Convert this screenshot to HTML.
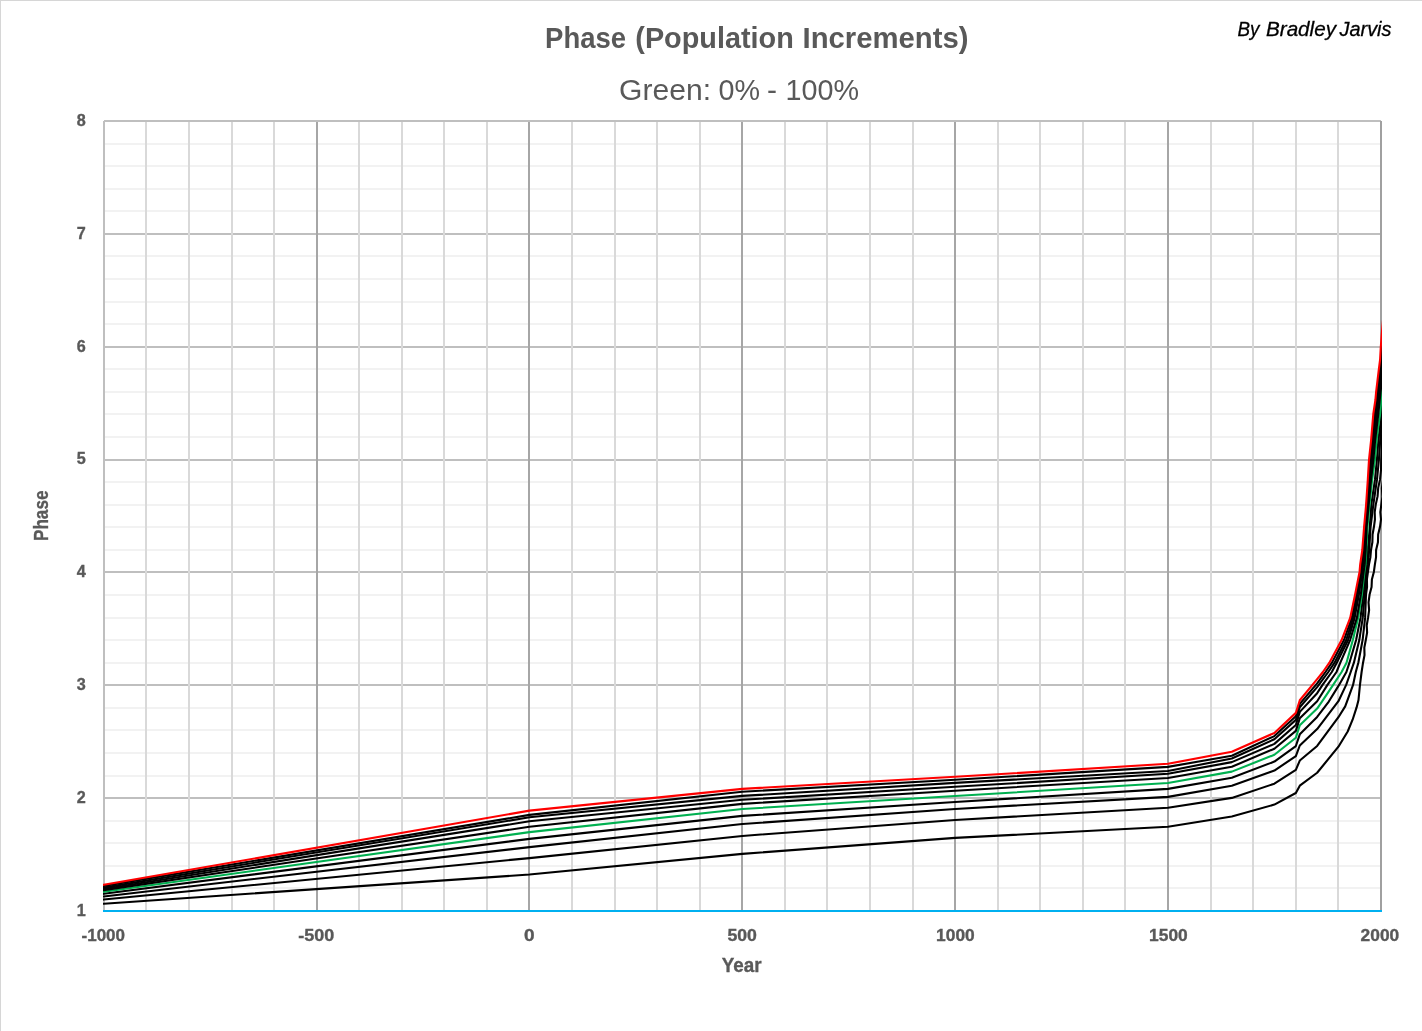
<!DOCTYPE html>
<html lang="en"><head><meta charset="utf-8"><title>Phase (Population Increments)</title>
<style>
html,body{margin:0;padding:0;background:#fff;}
body{width:1422px;height:1031px;overflow:hidden;position:relative;font-family:"Liberation Sans",sans-serif;}
svg{position:absolute;left:0;top:0;display:block;}
text{font-family:"Liberation Sans",sans-serif;}
.t{fill:#595959;font-weight:bold;}
.s{fill:#595959;font-weight:normal;}
.a{fill:#000;font-style:italic;stroke:#000;stroke-width:0.3px;}
.k{stroke:#595959;stroke-width:0.35px;}
</style></head><body>
<svg width="1422" height="1031" viewBox="0 0 1422 1031">
<rect x="0" y="0" width="1422" height="1031" fill="#ffffff"/>
<rect x="0" y="0" width="1422" height="1" fill="#d6d6d6"/>
<rect x="0" y="0" width="1" height="1031" fill="#d6d6d6"/>
<g shape-rendering="crispEdges">
<rect x="103" y="887" width="1279" height="2" fill="#f2f2f2"/>
<rect x="103" y="865" width="1279" height="2" fill="#f2f2f2"/>
<rect x="103" y="842" width="1279" height="2" fill="#f2f2f2"/>
<rect x="103" y="820" width="1279" height="2" fill="#f2f2f2"/>
<rect x="103" y="775" width="1279" height="2" fill="#f2f2f2"/>
<rect x="103" y="752" width="1279" height="2" fill="#f2f2f2"/>
<rect x="103" y="729" width="1279" height="2" fill="#f2f2f2"/>
<rect x="103" y="707" width="1279" height="2" fill="#f2f2f2"/>
<rect x="103" y="662" width="1279" height="2" fill="#f2f2f2"/>
<rect x="103" y="639" width="1279" height="2" fill="#f2f2f2"/>
<rect x="103" y="617" width="1279" height="2" fill="#f2f2f2"/>
<rect x="103" y="594" width="1279" height="2" fill="#f2f2f2"/>
<rect x="103" y="549" width="1279" height="2" fill="#f2f2f2"/>
<rect x="103" y="526" width="1279" height="2" fill="#f2f2f2"/>
<rect x="103" y="504" width="1279" height="2" fill="#f2f2f2"/>
<rect x="103" y="481" width="1279" height="2" fill="#f2f2f2"/>
<rect x="103" y="436" width="1279" height="2" fill="#f2f2f2"/>
<rect x="103" y="413" width="1279" height="2" fill="#f2f2f2"/>
<rect x="103" y="391" width="1279" height="2" fill="#f2f2f2"/>
<rect x="103" y="368" width="1279" height="2" fill="#f2f2f2"/>
<rect x="103" y="323" width="1279" height="2" fill="#f2f2f2"/>
<rect x="103" y="301" width="1279" height="2" fill="#f2f2f2"/>
<rect x="103" y="278" width="1279" height="2" fill="#f2f2f2"/>
<rect x="103" y="255" width="1279" height="2" fill="#f2f2f2"/>
<rect x="103" y="210" width="1279" height="2" fill="#f2f2f2"/>
<rect x="103" y="188" width="1279" height="2" fill="#f2f2f2"/>
<rect x="103" y="165" width="1279" height="2" fill="#f2f2f2"/>
<rect x="103" y="143" width="1279" height="2" fill="#f2f2f2"/>
<rect x="103" y="797" width="1279" height="2" fill="#bfbfbf"/>
<rect x="103" y="684" width="1279" height="2" fill="#bfbfbf"/>
<rect x="103" y="571" width="1279" height="2" fill="#bfbfbf"/>
<rect x="103" y="459" width="1279" height="2" fill="#bfbfbf"/>
<rect x="103" y="346" width="1279" height="2" fill="#bfbfbf"/>
<rect x="103" y="233" width="1279" height="2" fill="#bfbfbf"/>
<rect x="145" y="120" width="2" height="792" fill="#d9d9d9"/>
<rect x="188" y="120" width="2" height="792" fill="#d9d9d9"/>
<rect x="231" y="120" width="2" height="792" fill="#d9d9d9"/>
<rect x="273" y="120" width="2" height="792" fill="#d9d9d9"/>
<rect x="358" y="120" width="2" height="792" fill="#d9d9d9"/>
<rect x="401" y="120" width="2" height="792" fill="#d9d9d9"/>
<rect x="443" y="120" width="2" height="792" fill="#d9d9d9"/>
<rect x="486" y="120" width="2" height="792" fill="#d9d9d9"/>
<rect x="571" y="120" width="2" height="792" fill="#d9d9d9"/>
<rect x="614" y="120" width="2" height="792" fill="#d9d9d9"/>
<rect x="656" y="120" width="2" height="792" fill="#d9d9d9"/>
<rect x="699" y="120" width="2" height="792" fill="#d9d9d9"/>
<rect x="784" y="120" width="2" height="792" fill="#d9d9d9"/>
<rect x="826" y="120" width="2" height="792" fill="#d9d9d9"/>
<rect x="869" y="120" width="2" height="792" fill="#d9d9d9"/>
<rect x="912" y="120" width="2" height="792" fill="#d9d9d9"/>
<rect x="997" y="120" width="2" height="792" fill="#d9d9d9"/>
<rect x="1039" y="120" width="2" height="792" fill="#d9d9d9"/>
<rect x="1082" y="120" width="2" height="792" fill="#d9d9d9"/>
<rect x="1124" y="120" width="2" height="792" fill="#d9d9d9"/>
<rect x="1210" y="120" width="2" height="792" fill="#d9d9d9"/>
<rect x="1252" y="120" width="2" height="792" fill="#d9d9d9"/>
<rect x="1295" y="120" width="2" height="792" fill="#d9d9d9"/>
<rect x="1337" y="120" width="2" height="792" fill="#d9d9d9"/>
<rect x="316" y="120" width="2" height="792" fill="#a6a6a6"/>
<rect x="528" y="120" width="2" height="792" fill="#a6a6a6"/>
<rect x="741" y="120" width="2" height="792" fill="#a6a6a6"/>
<rect x="954" y="120" width="2" height="792" fill="#a6a6a6"/>
<rect x="1167" y="120" width="2" height="792" fill="#a6a6a6"/>
<rect x="104" y="120" width="1277" height="2" fill="#bfbfbf"/>
<rect x="103" y="121" width="2" height="791" fill="#bfbfbf"/>
<rect x="1380" y="121" width="2" height="791" fill="#a0a0a0"/>
</g>
<defs><clipPath id="pc"><rect x="103" y="120" width="1279" height="792"/></clipPath></defs>
<g clip-path="url(#pc)" fill="none" stroke-width="2.1" stroke-linejoin="round" stroke-linecap="butt">
<path d="M103 911 L1382 911" stroke="#00b0f0" stroke-width="2"/>
<path d="M102.80 903.77 L103.80 903.70 L529.47 874.57 L742.30 853.89 L955.13 837.92 L1167.97 826.80 L1231.82 816.56 L1274.38 804.58 L1295.85 793.05 L1299.80 785.70 L1317.15 772.74 L1338.43 746.70 L1347.70 731.50 L1352.60 719.70 L1356.60 707.40 L1358.50 700.00 L1359.96 684.92 L1361.60 672.00 L1363.05 662.70 L1364.52 655.15 L1364.33 647.61 L1365.80 640.06 L1367.10 632.67 L1366.74 625.29 L1368.04 617.90 L1369.11 610.10 L1368.53 602.30 L1369.60 594.50 L1371.57 586.98 L1371.89 579.46 L1373.86 571.94 L1374.90 564.40 L1376.05 557.20 L1376.10 550.00 L1377.95 542.27 L1378.15 534.53 L1380.00 526.80 L1380.98 519.50 L1380.32 512.20 L1381.30 504.90 L1382.42 496.60 L1381.88 488.30 L1383.00 480.00" stroke="#000000"/>
<path d="M102.80 899.68 L103.80 899.58 L529.47 858.08 L742.30 835.95 L955.13 819.98 L1167.97 807.79 L1231.82 797.89 L1274.38 783.70 L1295.85 769.88 L1299.80 760.55 L1317.15 745.95 L1338.43 717.20 L1345.20 706.40 L1346.96 701.54 L1353.06 684.92 L1355.80 672.00 L1358.33 662.70 L1362.60 640.06 L1365.10 617.90 L1366.00 594.50 L1367.05 586.98 L1366.91 579.46 L1367.96 571.94 L1369.00 564.40 L1370.40 557.20 L1371.00 550.00 L1372.38 542.27 L1372.57 534.53 L1373.95 526.80 L1374.93 519.50 L1374.72 512.20 L1375.70 504.90 L1377.55 496.40 L1378.20 487.90 L1380.05 479.40 L1381.03 469.65 L1381.20 459.90 L1381.90 449.95 L1381.80 440.00 L1383.00 420.00" stroke="#000000"/>
<path d="M102.80 896.55 L103.80 896.43 L529.47 847.12 L742.30 824.00 L955.13 808.98 L1167.97 796.85 L1231.82 785.76 L1274.38 770.61 L1295.85 756.10 L1299.80 745.50 L1317.15 729.10 L1338.43 701.20 L1346.17 684.92 L1350.70 672.00 L1353.90 662.70 L1359.30 640.06 L1362.70 617.90 L1364.70 594.50 L1366.80 571.94 L1367.90 564.40 L1369.20 550.00 L1370.60 526.80 L1373.30 504.90 L1377.00 479.40 L1378.90 459.90 L1380.20 440.00 L1381.60 425.00 L1383.00 405.00" stroke="#000000"/>
<path d="M102.80 893.89 L103.80 893.76 L529.47 838.89 L742.30 815.90 L955.13 801.94 L1167.97 788.85 L1231.82 777.72 L1274.38 761.60 L1295.85 746.04 L1299.80 734.30 L1317.15 716.90 L1328.80 701.54 L1339.08 684.92 L1346.40 672.00 L1349.47 662.70 L1356.10 640.06 L1360.50 617.90 L1363.30 594.50 L1365.60 571.94 L1366.70 564.40 L1367.80 550.00 L1369.80 526.80 L1371.30 504.90 L1375.00 479.40 L1376.90 459.90 L1378.40 440.00 L1380.00 427.00 L1381.50 414.00 L1383.00 395.00" stroke="#000000"/>
<path d="M102.80 891.96 L103.80 891.82 L529.47 832.10 L742.30 809.00 L955.13 796.04 L1167.97 782.98 L1231.82 771.62 L1274.38 754.80 L1295.85 737.79 L1299.80 725.30 L1317.15 708.60 L1321.95 701.54 L1333.18 684.92 L1341.60 672.00 L1346.51 662.70 L1352.83 640.06 L1358.15 617.90 L1361.90 594.50 L1364.40 571.94 L1365.50 564.40 L1366.30 550.00 L1367.50 526.80 L1369.50 504.90 L1372.20 479.40 L1374.90 459.90 L1376.60 440.00 L1378.10 427.60 L1380.05 414.00 L1381.30 400.00 L1382.00 388.00 L1383.50 365.00" stroke="#00b050"/>
<path d="M102.80 890.25 L103.80 890.10 L529.47 826.77 L742.30 803.86 L955.13 790.70 L1167.97 777.98 L1231.82 766.77 L1274.38 748.71 L1295.85 730.85 L1299.80 718.30 L1317.15 701.30 L1327.46 684.92 L1336.50 672.00 L1340.31 662.70 L1350.10 640.06 L1356.87 617.90 L1360.81 594.50 L1363.62 571.94 L1364.65 564.40 L1365.66 550.00 L1366.62 526.80 L1368.62 504.90 L1371.07 479.40 L1373.37 459.90 L1375.17 440.00 L1378.29 414.00 L1379.77 400.00 L1380.54 392.10 L1383.31 369.00 L1384.49 360.00 L1385.24 347.00 L1386.14 335.00 L1387.64 318.00" stroke="#000000"/>
<path d="M102.80 889.16 L103.80 889.00 L529.47 821.30 L742.30 799.79 L955.13 786.82 L1167.97 773.76 L1231.82 762.10 L1274.38 743.90 L1295.85 725.00 L1299.80 711.90 L1317.15 693.18 L1322.54 684.92 L1331.80 672.00 L1336.77 662.70 L1348.10 640.06 L1354.64 617.90 L1358.91 594.50 L1362.26 571.94 L1363.17 564.40 L1364.54 550.00 L1366.00 526.80 L1368.00 504.90 L1370.28 479.40 L1372.30 459.90 L1374.18 440.00 L1377.08 414.00 L1378.70 400.00 L1379.46 392.10 L1382.23 369.00 L1383.41 360.00 L1384.16 347.00 L1385.06 335.00 L1386.56 318.00" stroke="#000000"/>
<path d="M102.80 887.77 L103.80 887.60 L529.47 817.30 L742.30 795.91 L955.13 782.85 L1167.97 770.95 L1231.82 758.50 L1274.38 739.20 L1295.85 719.90 L1299.80 707.20 L1317.15 687.10 L1328.30 672.00 L1334.60 662.70 L1346.20 640.06 L1353.21 617.90 L1357.68 594.50 L1361.39 571.94 L1362.21 564.40 L1363.82 550.00 L1365.39 526.80 L1367.39 504.90 L1369.50 479.40 L1371.24 459.90 L1373.19 440.00 L1375.87 414.00 L1377.64 400.00 L1378.38 392.10 L1381.15 369.00 L1382.33 360.00 L1383.08 347.00 L1383.98 335.00 L1385.48 318.00" stroke="#000000"/>
<path d="M102.80 886.07 L103.80 885.90 L529.47 814.90 L742.30 791.74 L955.13 779.79 L1167.97 766.88 L1231.82 755.70 L1274.38 736.10 L1295.85 716.20 L1299.80 703.90 L1317.15 683.40 L1325.50 672.00 L1331.89 662.70 L1343.96 640.06 L1351.77 617.90 L1356.46 594.50 L1360.51 571.94 L1361.26 564.40 L1363.10 550.00 L1364.78 526.80 L1366.78 504.90 L1368.71 479.40 L1370.18 459.90 L1372.20 440.00 L1374.65 414.00 L1376.58 400.00 L1377.30 392.10 L1380.07 369.00 L1381.25 360.00 L1382.00 347.00 L1382.90 335.00 L1384.40 318.00" stroke="#000000"/>
<path d="M102.80 884.96 L103.80 884.79 L529.47 810.62 L742.30 788.87 L955.13 776.78 L1167.97 763.82 L1231.82 751.73 L1274.38 732.94 L1295.85 712.89 L1299.80 700.28 L1317.15 679.14 L1322.90 672.00 L1329.38 662.70 L1341.60 640.06 L1350.18 617.90 L1355.10 594.50 L1359.54 571.94 L1360.20 564.40 L1362.30 550.00 L1364.10 526.80 L1366.10 504.90 L1367.84 479.40 L1369.00 459.90 L1371.10 440.00 L1373.30 414.00 L1375.40 400.00 L1376.10 392.10 L1378.87 369.00 L1380.05 360.00 L1380.80 347.00 L1381.70 335.00 L1383.20 318.00" stroke="#ff0000"/>
</g>
<text y="48.0" font-size="29.60" class="t" text-anchor="start" xml:space="preserve"><tspan x="545.1" textLength="81.0" lengthAdjust="spacingAndGlyphs">Phase</tspan> <tspan x="635.3" textLength="158.5" lengthAdjust="spacingAndGlyphs">(Population</tspan> <tspan x="802.5" textLength="166.0" lengthAdjust="spacingAndGlyphs">Increments)</tspan></text>
<text y="99.5" font-size="30.00" class="s" text-anchor="start" xml:space="preserve"><tspan x="619.0" textLength="92.0" lengthAdjust="spacingAndGlyphs">Green:</tspan> <tspan x="718.5" textLength="41.5" lengthAdjust="spacingAndGlyphs">0%</tspan> <tspan x="767.0" textLength="10.0" lengthAdjust="spacingAndGlyphs">-</tspan> <tspan x="785.5" textLength="73.5" lengthAdjust="spacingAndGlyphs">100%</tspan></text>
<text y="35.7" font-size="20.50" class="a" text-anchor="start" xml:space="preserve"><tspan x="1237.5" textLength="22.0" lengthAdjust="spacingAndGlyphs">By</tspan> <tspan x="1266.0" textLength="70.0" lengthAdjust="spacingAndGlyphs">Bradley</tspan> <tspan x="1339.5" textLength="52.0" lengthAdjust="spacingAndGlyphs">Jarvis</tspan></text>
<text x="85.7" y="915.8" font-size="16.60" text-anchor="end" class="t k" textLength="9.0" lengthAdjust="spacingAndGlyphs">1</text>
<text x="85.7" y="802.9" font-size="16.60" text-anchor="end" class="t k" textLength="9.0" lengthAdjust="spacingAndGlyphs">2</text>
<text x="85.7" y="690.1" font-size="16.60" text-anchor="end" class="t k" textLength="9.0" lengthAdjust="spacingAndGlyphs">3</text>
<text x="85.7" y="577.2" font-size="16.60" text-anchor="end" class="t k" textLength="9.0" lengthAdjust="spacingAndGlyphs">4</text>
<text x="85.7" y="464.4" font-size="16.60" text-anchor="end" class="t k" textLength="9.0" lengthAdjust="spacingAndGlyphs">5</text>
<text x="85.7" y="351.5" font-size="16.60" text-anchor="end" class="t k" textLength="9.0" lengthAdjust="spacingAndGlyphs">6</text>
<text x="85.7" y="238.7" font-size="16.60" text-anchor="end" class="t k" textLength="9.0" lengthAdjust="spacingAndGlyphs">7</text>
<text x="85.7" y="125.8" font-size="16.60" text-anchor="end" class="t k" textLength="9.0" lengthAdjust="spacingAndGlyphs">8</text>
<text x="103.3" y="941.0" font-size="16.60" text-anchor="middle" class="t k" textLength="43.5" lengthAdjust="spacingAndGlyphs">-1000</text>
<text x="316.3" y="941.0" font-size="16.60" text-anchor="middle" class="t k" textLength="36.0" lengthAdjust="spacingAndGlyphs">-500</text>
<text x="529.4" y="941.0" font-size="16.60" text-anchor="middle" class="t k" textLength="10.6" lengthAdjust="spacingAndGlyphs">0</text>
<text x="742.2" y="941.0" font-size="16.60" text-anchor="middle" class="t k" textLength="29.5" lengthAdjust="spacingAndGlyphs">500</text>
<text x="955.4" y="941.0" font-size="16.60" text-anchor="middle" class="t k" textLength="38.6" lengthAdjust="spacingAndGlyphs">1000</text>
<text x="1168.4" y="941.0" font-size="16.60" text-anchor="middle" class="t k" textLength="38.6" lengthAdjust="spacingAndGlyphs">1500</text>
<text x="1379.9" y="941.0" font-size="16.60" text-anchor="middle" class="t k" textLength="38.6" lengthAdjust="spacingAndGlyphs">2000</text>
<text x="741.6" y="971.8" font-size="19.80" text-anchor="middle" class="t k" textLength="39.8" lengthAdjust="spacingAndGlyphs">Year</text>
<text x="48.0" y="515.8" font-size="20.20" text-anchor="middle" class="t k" textLength="50.5" lengthAdjust="spacingAndGlyphs" transform="rotate(-90 48.0 515.8)">Phase</text>
</svg></body></html>
